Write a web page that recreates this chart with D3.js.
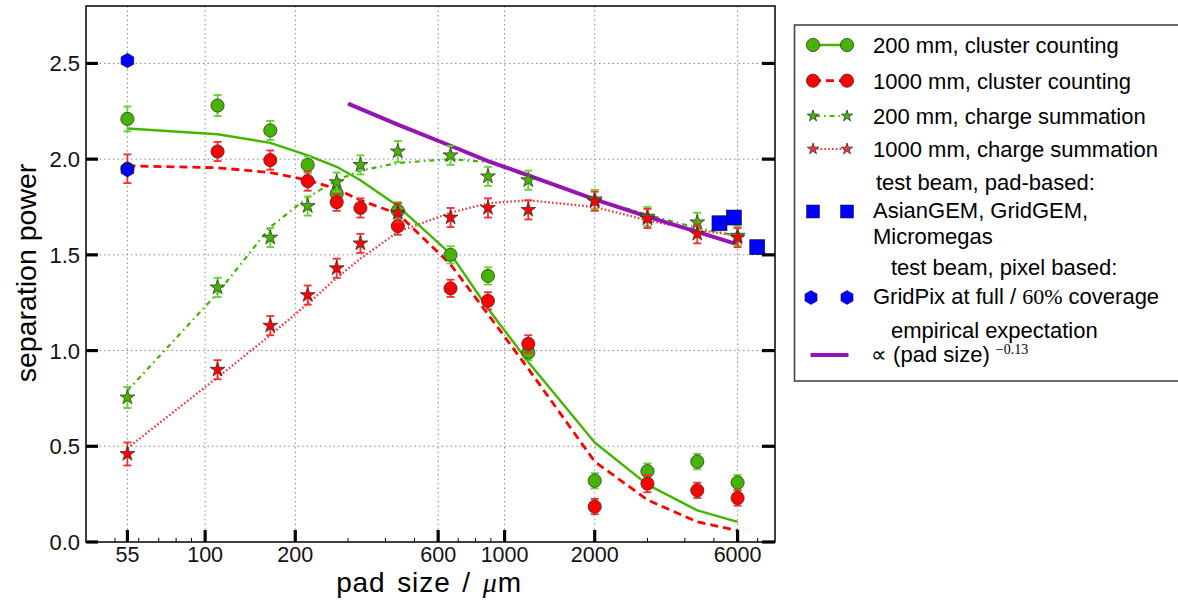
<!DOCTYPE html>
<html>
<head>
<meta charset="utf-8">
<script src="https://cdn.jsdelivr.net/npm/d3@7"></script>
<style>
  html, body { margin: 0; padding: 0; background: #fff; }
  svg { display: block; font-family: "Liberation Sans", Arial, sans-serif; }
</style>
</head>
<body>
<svg id="chart" width="1178" height="603"></svg>
<script>
// ---------------- data ----------------
const padSizes = [55, 110, 165, 220, 275, 330, 440, 660, 880, 1200, 2000, 3000, 4400, 6000];

// cluster counting, 200 mm (green circles)
const cc200 =    [2.21, 2.28, 2.15, 1.97, 1.82, null, 1.73, 1.50, 1.39, 0.99, 0.32, 0.37, 0.42, 0.31];
const cc200Err = [0.065, 0.055, 0.05, 0.045, 0.045, null, 0.045, 0.045, 0.045, 0.04, 0.04, 0.04, 0.04, 0.04];
// cluster counting, 1000 mm (red circles)
const cc1000 =    [1.95, 2.04, 1.995, 1.885, 1.775, 1.745, 1.65, 1.325, 1.26, 1.035, 0.185, 0.305, 0.27, 0.23];
const cc1000Err = [0.075, 0.05, 0.05, 0.05, 0.045, 0.05, 0.045, 0.045, 0.045, 0.045, 0.04, 0.045, 0.04, 0.04];
// charge summation, 200 mm (green stars)
const cs200 =    [0.755, 1.33, 1.59, 1.755, 1.88, 1.97, 2.04, 2.02, 1.91, 1.89, 1.79, 1.70, 1.67, 1.60];
const cs200Err = [0.055, 0.05, 0.05, 0.05, 0.05, 0.05, 0.055, 0.05, 0.05, 0.05, 0.05, 0.05, 0.05, 0.05];
// charge summation, 1000 mm (red stars)
const cs1000 =    [0.46, 0.90, 1.13, 1.29, 1.43, 1.56, 1.72, 1.695, 1.745, 1.735, 1.78, 1.69, 1.61, 1.59];
const cs1000Err = [0.06, 0.05, 0.05, 0.05, 0.05, 0.05, 0.05, 0.05, 0.05, 0.05, 0.05, 0.05, 0.05, 0.05];

// model curves
const cc200Fit =  [2.16, 2.13, 2.085, 2.02, 1.96, 1.89, 1.755, 1.505, 1.22, 0.94, 0.52, 0.30, 0.165, 0.105];
const cc1000Fit = [1.965, 1.955, 1.93, 1.89, 1.845, 1.785, 1.715, 1.45, 1.19, 0.905, 0.42, 0.22, 0.105, 0.06];
const cs200Fit =  [0.79, 1.30, 1.645, 1.80, 1.89, 1.94, 1.98, 2.00, 1.985, 1.91, 1.79, 1.71, 1.64, 1.60];
const cs1000Fit = [0.49, 0.86, 1.08, 1.245, 1.38, 1.48, 1.62, 1.72, 1.77, 1.785, 1.75, 1.68, 1.63, 1.60];

// empirical expectation  ∝ (pad size)^-0.13
const empX = [300, 440, 660, 880, 1200, 2000, 3000, 4400, 6000];
const empY = [2.29, 2.18, 2.07, 1.99, 1.915, 1.79, 1.70, 1.62, 1.555];

// test beam, pad based (blue squares)
const padBeamX = [5220, 5830, 6980];
const padBeamY = [1.665, 1.695, 1.54];
// test beam, pixel based (blue hexagons)
const pixBeamX = [55, 55];
const pixBeamY = [2.515, 1.945];

// ticks
const xMajorTicks = [55, 100, 200, 600, 1000, 2000, 6000];
const xMinorTicks = [50, 60, 70, 80, 90, 300, 400, 500, 700, 800, 900, 3000, 4000, 5000, 7000];
const yTicks = [0.0, 0.5, 1.0, 1.5, 2.0, 2.5];

const legendLabels = [
  "200 mm, cluster counting",
  "1000 mm, cluster counting",
  "200 mm, charge summation",
  "1000 mm, charge summation"
];

// ---------------- layout ----------------
const L = 86, R = 775, T = 6, B = 542;
const GREEN = "#44b400", GREEN_ERR = "#5fd42a", RED = "#ff0000", RED_ERR = "#ff2a2a";
const PURPLE = "#9614b4", BLUE = "#0000ff", EDGE = "#333";

const svg = d3.select("#chart");
const x = d3.scaleLog().domain([40, 8000]).range([L, R]);
const y = d3.scaleLinear().domain([0, 2.8]).range([B, T]);

// grid
const grid = svg.append("g");
grid.selectAll("line.gx").data(xMajorTicks).join("line")
  .attr("x1", d => x(d)).attr("x2", d => x(d)).attr("y1", T).attr("y2", B)
  .attr("stroke", "#8a8a8a").attr("stroke-width", 1).attr("stroke-dasharray", "1.5,3");
grid.selectAll("line.gy").data(yTicks.filter(d => d > 0)).join("line")
  .attr("x1", L).attr("x2", R).attr("y1", d => y(d)).attr("y2", d => y(d))
  .attr("stroke", "#8a8a8a").attr("stroke-width", 1).attr("stroke-dasharray", "1.5,3");

// helpers
function pts(xs, ys) { return xs.map((v, i) => [v, ys[i]]).filter(p => p[1] != null); }
const line = d3.line().x(d => x(d[0])).y(d => y(d[1]));
function starPath(r) {
  const ri = r * 0.382;
  let p = [];
  for (let i = 0; i < 10; i++) {
    const a = -Math.PI / 2 + i * Math.PI / 5;
    const rr = i % 2 === 0 ? r : ri;
    p.push([rr * Math.cos(a), rr * Math.sin(a)]);
  }
  return "M" + p.map(q => q[0].toFixed(2) + "," + q[1].toFixed(2)).join("L") + "Z";
}
function hexPath(r) {
  let p = [];
  for (let i = 0; i < 6; i++) {
    const a = -Math.PI / 2 + i * Math.PI / 3;
    p.push([r * Math.cos(a), r * Math.sin(a)]);
  }
  return "M" + p.map(q => q[0].toFixed(2) + "," + q[1].toFixed(2)).join("L") + "Z";
}

const plot = svg.append("g");

// fit lines
function drawLine(xs, ys, color, width, dash, cap) {
  plot.append("path").datum(pts(xs, ys)).attr("d", line)
    .attr("fill", "none").attr("stroke", color).attr("stroke-width", width)
    .attr("stroke-dasharray", dash).attr("stroke-linecap", cap || "butt")
    .attr("stroke-linejoin", "round");
}
drawLine(padSizes, cs200Fit, GREEN, 2.2, "5,4,1.6,4");
drawLine(padSizes, cs1000Fit, "#ff3030", 2.3, "1.6,2.2");
drawLine(padSizes, cc1000Fit, RED, 2.8, "8,5");
drawLine(padSizes, cc200Fit, GREEN, 2.4, null);
drawLine(empX, empY, PURPLE, 4, null, "butt");

// error bars
function drawErr(xs, ys, es, color) {
  const d = xs.map((v, i) => [v, ys[i], es[i]]).filter(p => p[1] != null);
  const g = plot.append("g").attr("stroke", color).attr("stroke-width", 1.8);
  g.selectAll("line.v").data(d).join("line")
    .attr("x1", p => x(p[0])).attr("x2", p => x(p[0]))
    .attr("y1", p => y(p[1] - p[2])).attr("y2", p => y(p[1] + p[2]));
  g.selectAll("line.t").data(d).join("line")
    .attr("x1", p => x(p[0]) - 4).attr("x2", p => x(p[0]) + 4)
    .attr("y1", p => y(p[1] + p[2])).attr("y2", p => y(p[1] + p[2]));
  g.selectAll("line.b").data(d).join("line")
    .attr("x1", p => x(p[0]) - 4).attr("x2", p => x(p[0]) + 4)
    .attr("y1", p => y(p[1] - p[2])).attr("y2", p => y(p[1] - p[2]));
}
function drawCircles(xs, ys, color) {
  plot.append("g").selectAll("circle").data(pts(xs, ys)).join("circle")
    .attr("cx", p => x(p[0])).attr("cy", p => y(p[1])).attr("r", 6.6)
    .attr("fill", color).attr("stroke", EDGE).attr("stroke-width", 0.8);
}
function drawStars(xs, ys, color) {
  plot.append("g").selectAll("path").data(pts(xs, ys)).join("path")
    .attr("transform", p => `translate(${x(p[0])},${y(p[1])})`)
    .attr("d", starPath(7.8))
    .attr("fill", color).attr("stroke", EDGE).attr("stroke-width", 0.8).attr("stroke-linejoin", "miter");
}

drawErr(padSizes, cc200, cc200Err, GREEN_ERR);
drawCircles(padSizes, cc200, GREEN);
drawErr(padSizes, cc1000, cc1000Err, RED_ERR);
drawCircles(padSizes, cc1000, RED);
drawErr(padSizes, cs200, cs200Err, GREEN_ERR);
drawStars(padSizes, cs200, GREEN);
drawErr(padSizes, cs1000, cs1000Err, RED_ERR);
drawStars(padSizes, cs1000, RED);

// test beam
plot.append("g").selectAll("rect").data(pts(padBeamX, padBeamY)).join("rect")
  .attr("x", p => x(p[0]) - 7.5).attr("y", p => y(p[1]) - 7.5)
  .attr("width", 15).attr("height", 15)
  .attr("fill", BLUE).attr("stroke", "#111").attr("stroke-width", 0.6);
plot.append("g").selectAll("path").data(pts(pixBeamX, pixBeamY)).join("path")
  .attr("transform", p => `translate(${x(p[0])},${y(p[1])})`)
  .attr("d", hexPath(7.3))
  .attr("fill", BLUE).attr("stroke", "#111").attr("stroke-width", 0.6);

// frame
svg.append("rect").attr("x", L).attr("y", T).attr("width", R - L).attr("height", B - T)
  .attr("fill", "none").attr("stroke", "#111").attr("stroke-width", 1.6);

// axes (ticks inward)
const ax = svg.append("g").attr("fill", "#111");
ax.selectAll("line.xM").data(xMajorTicks).join("line")
  .attr("x1", d => x(d)).attr("x2", d => x(d)).attr("y1", B).attr("y2", B - 12)
  .attr("stroke", "#000").attr("stroke-width", 3.2);
ax.selectAll("line.xm").data(xMinorTicks).join("line")
  .attr("x1", d => x(d)).attr("x2", d => x(d)).attr("y1", B).attr("y2", B - 4)
  .attr("stroke", "#000").attr("stroke-width", 1);
ax.selectAll("line.yl").data(yTicks).join("line")
  .attr("x1", L).attr("x2", L + 12).attr("y1", d => y(d)).attr("y2", d => y(d))
  .attr("stroke", "#000").attr("stroke-width", 3.2);
ax.selectAll("line.yr").data(yTicks).join("line")
  .attr("x1", R - 13).attr("x2", R).attr("y1", d => y(d)).attr("y2", d => y(d))
  .attr("stroke", "#000").attr("stroke-width", 3.2);

ax.selectAll("text.xl").data(xMajorTicks).join("text")
  .attr("x", d => x(d)).attr("y", 561.5).attr("text-anchor", "middle")
  .attr("font-size", 21.5).text(d => d);
ax.selectAll("text.yl").data(yTicks).join("text")
  .attr("x", 80).attr("y", d => y(d) + 8).attr("text-anchor", "end")
  .attr("font-size", 22).text(d => d.toFixed(1));

// axis labels
const xl = svg.append("text").attr("x", 429).attr("y", 591.5).attr("text-anchor", "middle")
  .attr("font-size", 28).attr("letter-spacing", 0.9).attr("word-spacing", 3);
xl.append("tspan").text("pad size / ");
xl.append("tspan").attr("font-family", "'Liberation Serif', serif").attr("font-style", "italic").text("μ");
xl.append("tspan").text("m");

svg.append("text").attr("transform", "translate(36,273) rotate(-90)").attr("text-anchor", "middle")
  .attr("font-size", 28.5).text("separation power");

// ---------------- legend ----------------
const lg = svg.append("g");
lg.append("rect").attr("x", 794.5).attr("y", 25).attr("width", 400).attr("height", 356)
  .attr("fill", "#fff").attr("stroke", "#444").attr("stroke-width", 1.6);

const mx1 = 813, mx2 = 847, tx = 873, fs = 22;
const rowsY = [45, 80.7, 116, 149];
const rowStyles = [
  { color: GREEN, dash: null, w: 2.4, marker: "circle" },
  { color: RED, dash: "8,5", off: -13, w: 2.8, marker: "circle" },
  { color: GREEN, dash: "5,4,1.6,4", off: -2, w: 2.2, marker: "star" },
  { color: "#ff3030", dash: "1.6,2.2", w: 2.2, marker: "star" }
];
rowsY.forEach((yy, i) => {
  const s = rowStyles[i];
  lg.append("line").attr("x1", mx1).attr("x2", mx2).attr("y1", yy).attr("y2", yy)
    .attr("stroke", s.color).attr("stroke-width", s.w)
    .attr("stroke-dasharray", s.dash).attr("stroke-dashoffset", s.off || 0);
  [mx1, mx2].forEach(mx => {
    if (s.marker === "circle") {
      lg.append("circle").attr("cx", mx).attr("cy", yy).attr("r", 6.6)
        .attr("fill", s.color).attr("stroke", EDGE).attr("stroke-width", 0.8);
    } else {
      lg.append("path").attr("transform", `translate(${mx},${yy})`).attr("d", starPath(6))
        .attr("fill", s.color).attr("stroke", EDGE).attr("stroke-width", 0.8);
    }
  });
  lg.append("text").attr("x", tx).attr("y", yy + 7.8).attr("font-size", fs).text(legendLabels[i]);
});

// pad-based test beam
[mx1, mx2].forEach(mx => {
  lg.append("rect").attr("x", mx - 6.5).attr("y", 211.5 - 6.5).attr("width", 13).attr("height", 13)
    .attr("fill", BLUE).attr("stroke", "#111").attr("stroke-width", 0.5);
});
lg.append("text").attr("x", 876).attr("y", 190).attr("font-size", fs).text("test beam, pad-based:");
lg.append("text").attr("x", tx).attr("y", 217.5).attr("font-size", fs).text("AsianGEM, GridGEM,");
lg.append("text").attr("x", tx).attr("y", 243.5).attr("font-size", fs).text("Micromegas");

// pixel-based test beam
[mx1 - 2, mx2].forEach(mx => {
  lg.append("path").attr("transform", `translate(${mx},297.5)`).attr("d", hexPath(7))
    .attr("fill", BLUE).attr("stroke", "#111").attr("stroke-width", 0.5);
});
lg.append("text").attr("x", 891).attr("y", 275).attr("font-size", fs).text("test beam, pixel based:");
const gp = lg.append("text").attr("x", tx).attr("y", 303.5).attr("font-size", fs);
gp.append("tspan").text("GridPix at full / ");
gp.append("tspan").attr("font-family", "'Liberation Serif', serif").text("60%");
gp.append("tspan").text(" coverage");

// empirical expectation
lg.append("line").attr("x1", 810.5).attr("x2", 848.5).attr("y1", 355).attr("y2", 355)
  .attr("stroke", PURPLE).attr("stroke-width", 4);
lg.append("text").attr("x", 891).attr("y", 337.5).attr("font-size", fs).text("empirical expectation");
const ee = lg.append("text").attr("x", 871).attr("y", 362).attr("font-size", fs);
ee.append("tspan").attr("font-family", "'Liberation Serif', serif").text("∝");
ee.append("tspan").text(" (pad size) ");
ee.append("tspan").attr("dy", -8).attr("font-size", 14)
  .attr("font-family", "'Liberation Serif', serif").text("−0.13");
</script>
</body>
</html>
